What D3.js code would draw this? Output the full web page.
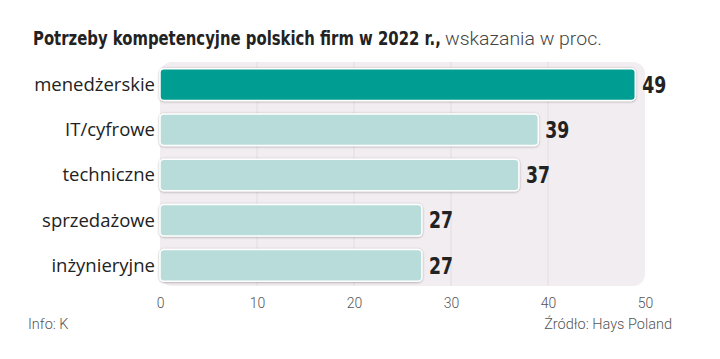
<!DOCTYPE html>
<html><head><meta charset="utf-8">
<script src="https://cdn.jsdelivr.net/npm/d3@7"></script>
<style>
body{margin:0;background:#fff;}
svg{display:block;}
</style></head>
<body><svg id="c" width="720" height="359"></svg>
<script>
const categories = ["menedżerskie","IT/cyfrowe","techniczne","sprzedażowe","inżynieryjne"];
const values = [49,39,37,27,27];
const ticks = [0,10,20,30,40,50];
const title = "Potrzeby kompetencyjne polskich firm w 2022 r.,";
const subtitle = "wskazania w proc.";
const infoText = "Info: K";
const sourceText = "Źródło: Hays Poland";

const svg = d3.select("#c");
const x = d3.scaleLinear().domain([0,50]).range([160,645]);
const y = d3.scaleBand().domain(categories).range([62,288]).paddingInner(0.3).paddingOuter(0.15);

const defs = svg.append("defs");
const f = defs.append("filter").attr("id","sh").attr("x","-5%").attr("y","-30%").attr("width","110%").attr("height","160%");
f.append("feDropShadow").attr("dx",0).attr("dy",0.5).attr("stdDeviation",1).attr("flood-color","#000").attr("flood-opacity",0.35);

const condensed = "'DejaVu Sans Condensed','Liberation Sans Narrow',sans-serif";

// fit a text to a given width by horizontal scaling
function fitX(sel, x0, y0, w){
  const n = sel.node(); const nat = n.getComputedTextLength();
  sel.attr("x",0).attr("y",0).attr("transform",`translate(${x0},${y0}) scale(${w/nat},1)`);
}

// title
const tt = svg.append("text").attr("font-size",19).attr("fill","#222")
  .attr("font-family",condensed).attr("font-weight","bold").text(title);
fitX(tt,33,45,408);
const st = svg.append("text").attr("font-size",19).attr("fill","#444")
  .attr("font-family","'Roboto',sans-serif").attr("font-weight","300").text(subtitle);
fitX(st,445,45,157);

// panel
svg.append("rect").attr("x",x(0)).attr("y",62).attr("width",x(50)-x(0)).attr("height",224).attr("rx",12).attr("fill","#f2edf1");

// grid
svg.append("g").selectAll("line").data(ticks.filter(d=>d>0&&d<50)).join("line")
  .attr("x1",d=>x(d)).attr("x2",d=>x(d)).attr("y1",62).attr("y2",286)
  .attr("stroke","#e3dde2").attr("stroke-width",1);

// bars
svg.append("g").selectAll("rect").data(values).join("rect")
  .attr("x",x(0)).attr("y",(d,i)=>y(categories[i]))
  .attr("width",d=>x(d)-x(0)).attr("height",y.bandwidth())
  .attr("rx",4)
  .attr("fill",(d,i)=>i===0?"#009e92":"#b7dcda")
  .attr("stroke","#fff").attr("stroke-width",1.5)
  .attr("filter","url(#sh)");

// category labels
svg.append("g").selectAll("text").data(categories).join("text")
  .attr("x",155).attr("y",d=>y(d)+y.bandwidth()/2).attr("dy","0.35em")
  .attr("text-anchor","end").attr("font-family","'Open Sans',sans-serif").attr("font-size",18.5).attr("fill","#222")
  .text(d=>d);

// value labels
svg.append("g").selectAll("text").data(values).join("text")
  .attr("font-family",condensed).attr("font-weight","bold").attr("font-size",23).attr("fill","#222")
  .attr("dy","0.36em")
  .text(d=>d)
  .each(function(d,i){ fitX(d3.select(this), x(d)+7, y(categories[i])+y.bandwidth()/2, 24); });

// axis
const ax = svg.append("g").attr("transform","translate(0,286)")
  .call(d3.axisBottom(x).tickValues(ticks).tickSize(0).tickPadding(12));
ax.select(".domain").remove();
ax.selectAll("text").attr("font-family","'Roboto',sans-serif").attr("font-weight","300").attr("font-size",14).attr("fill","#555");

// footer
svg.append("text").attr("x",28).attr("y",329).attr("font-family","'Roboto',sans-serif").attr("font-weight","300").attr("font-size",14.5).attr("fill","#555").text(infoText);
svg.append("text").attr("x",672).attr("y",329).attr("text-anchor","end").attr("font-family","'Roboto',sans-serif").attr("font-weight","300").attr("font-size",14.5).attr("fill","#555").text(sourceText);
</script></body></html>
